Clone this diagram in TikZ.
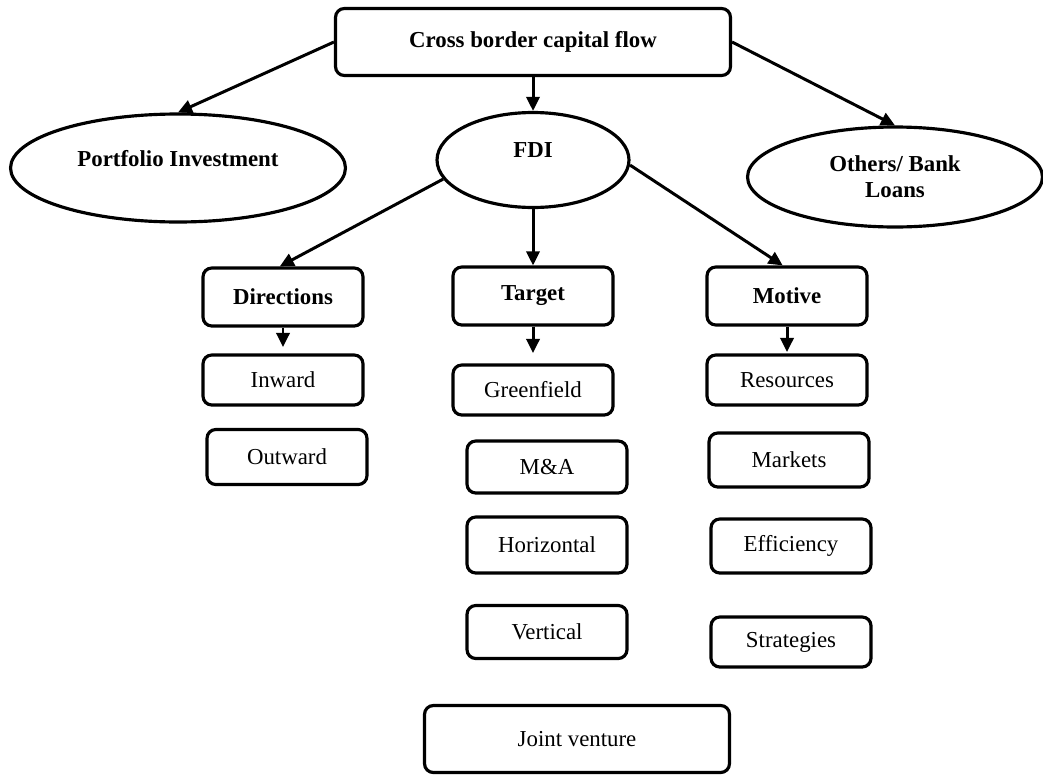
\documentclass[tikz,border=0pt]{standalone}
\usepackage{fontspec}
\setmainfont{Liberation Serif}
\usetikzlibrary{positioning,arrows.meta,shapes.geometric}
\tikzset{cbox/.style={draw, line width=1.8pt, rounded corners=5pt, inner sep=0pt, align=center, minimum width=3.2cm, minimum height=1.04cm, font=\fontsize{13}{15}\selectfont}}
\tikzset{hbox/.style={cbox, minimum height=1.16cm, font=\bfseries\fontsize{13}{15}\selectfont}}
\tikzset{oval/.style={draw, ellipse, line width=1.8pt, inner sep=0pt, align=center, font=\bfseries\fontsize{13}{15}\selectfont}}
\tikzset{lifted/.style={text depth=0.4cm}}
\tikzset{arr/.style={draw, line width=1.7pt, -{Triangle[length=8pt,width=7.5pt]}}}

\begin{document}
\begin{tikzpicture}[x=0.02cm, y=-0.02cm]
	\useasboundingbox (0,0) rectangle (1043,774);
	% top level
	\node[hbox, minimum width=7.9cm, minimum height=1.34cm] (flow) at (533,42) {Cross border capital flow};
	\node[oval, lifted, minimum width=6.7cm, minimum height=2.16cm] (port) at (178,168) {Portfolio Investment};
	\node[oval, lifted, minimum width=3.84cm, minimum height=1.9cm] (fdi) at (533,160) {FDI};
	\node[oval, minimum width=5.9cm, minimum height=2cm] (bank) at (895,177) {Others/ Bank\\Loans};
	\draw[arr] (flow.west) -- (port.north);
	\draw[arr] (flow.south) -- (fdi.north);
	\draw[arr] (flow.east) -- (bank.north);
	% FDI branches
	\node[hbox] (dir) at (283,297) {Directions};
	\node[hbox] (tar) at (533,296) {Target};
	\node[hbox] (mot) at (787,296) {Motive};
	\draw[arr] (fdi.192) -- (dir.96);
	\draw[arr] (fdi.south) -- (tar.north);
	\draw[arr] (fdi.-3) -- (mot.98);
	% directions
	\node[cbox, minimum height=1cm] (inw) at (283,380) {Inward};
	\node[cbox, minimum height=1.1cm] (outw) at (287,457) {Outward};
	\coordinate (dirend) at (283,347);
	\draw[arr] (dir.south) -- (dirend);
	% target
	\node[cbox, minimum height=1cm] (green) at (533,390) {Greenfield};
	\node[cbox] (ma) at (547,467) {M\&A};
	\node[cbox, minimum height=1.12cm] (horiz) at (547,545) {Horizontal};
	\node[cbox, minimum height=1.06cm] (vert) at (547,632) {Vertical};
	\coordinate (tarend) at (533,353);
	\draw[arr] (tar.south) -- (tarend);
	% motive
	\node[cbox, minimum height=1cm] (res) at (787,380) {Resources};
	\node[cbox, minimum height=1.08cm] (mkt) at (789,460) {Markets};
	\node[cbox, minimum height=1.08cm] (eff) at (791,546) {Efficiency};
	\node[cbox, minimum height=1cm] (strat) at (791,642) {Strategies};
	\coordinate (motend) at (787,352);
	\draw[arr] (mot.south) -- (motend);
	% bottom
	\node[cbox, minimum width=6.1cm, minimum height=1.34cm] (joint) at (577,739) {Joint venture};
\end{tikzpicture}
\end{document}
